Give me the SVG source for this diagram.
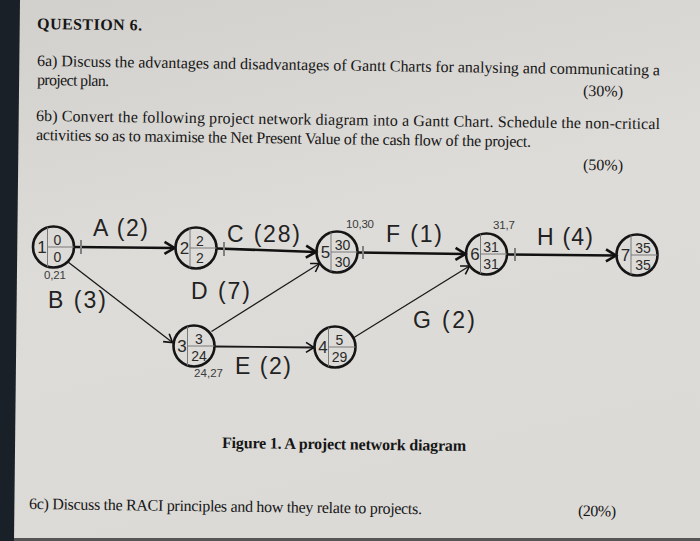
<svg xmlns="http://www.w3.org/2000/svg" width="700" height="541" viewBox="0 0 700 541">
<defs>
<linearGradient id="bg" x1="0" y1="0" x2="0.3" y2="1">
<stop offset="0" stop-color="#d2d0cc"/>
<stop offset="0.5" stop-color="#dedcd8"/>
<stop offset="1" stop-color="#dcdad6"/>
</linearGradient>
<marker id="ah" markerUnits="userSpaceOnUse" markerWidth="16" markerHeight="16" viewBox="-12 -8 14 16" refX="0" refY="0" orient="auto">
<path d="M-10,-6 L0,0 L-10,6" fill="none" stroke="#111" stroke-width="2.6" stroke-linejoin="miter"/>
</marker>
<marker id="ahs" markerUnits="userSpaceOnUse" markerWidth="14" markerHeight="14" viewBox="-10 -7 12 14" refX="0" refY="0" orient="auto">
<path d="M-8,-5 L0,0 L-8,5" fill="none" stroke="#111" stroke-width="1.6"/>
</marker>
</defs>
<style>
.paper{font-family:"Liberation Serif","Times New Roman",serif;fill:#161616;font-size:16px}
.bold{font-weight:bold}
.node circle{fill:none;stroke:#151515;stroke-width:2.6}
.node line{stroke:#7a7a7a;stroke-width:1}
.node text{font-family:"Liberation Sans",Arial,sans-serif;fill:#2a2a2a}
.big{font-size:17px;text-anchor:middle}
.num{font-size:14px;text-anchor:middle}
.lbl{font-family:"Liberation Sans",Arial,sans-serif;font-size:23px;fill:#222}
.sml{font-family:"Liberation Sans",Arial,sans-serif;font-size:11.5px;fill:#3a3a3a}
.thick{stroke:#111;stroke-width:2.6;fill:none}
.thin{stroke:#1a1a1a;stroke-width:1.3;fill:none}
.tick{stroke:#808080;stroke-width:2}
</style>
<rect width="700" height="541" fill="url(#bg)"/>
<polygon points="0,0 20,0 14,541 0,541" fill="#1a2028"/>
<rect x="14" y="538" width="686" height="3" fill="#555"/>

<text class="paper bold" x="37" y="29" font-size="17" textLength="105" transform="rotate(0.8 37 29)">QUESTION 6.</text>
<text class="paper" x="37" y="66" textLength="623" transform="rotate(0.85 37 66)">6a)  Discuss the advantages and disadvantages of Gantt Charts for analysing and communicating a</text>
<text class="paper" x="37" y="85" textLength="72" transform="rotate(0.85 37 85)">project plan.</text>
<text class="paper" x="583" y="96" textLength="40" transform="rotate(0.85 583 96)">(30%)</text>
<text class="paper" x="36" y="121" textLength="624" transform="rotate(0.75 36 121)">6b) Convert the following project network diagram into a Gantt Chart. Schedule the non-critical</text>
<text class="paper" x="36" y="140" textLength="495" transform="rotate(0.8 36 140)">activities so as to maximise the Net Present Value of the cash flow of the project.</text>
<text class="paper" x="583" y="170" textLength="40" transform="rotate(0.8 583 170)">(50%)</text>

<g id="connectors">
<path id="A" class="thick" d="M74,247 L174.5,248" marker-end="url(#ah)"/>
<path id="C" class="thick" d="M217,248.5 L316,252" marker-end="url(#ah)"/>
<path id="F" class="thick" d="M357.5,252.5 L465.5,254" marker-end="url(#ah)"/>
<path id="H" class="thick" d="M507,254.5 L616,255.5" marker-end="url(#ah)"/>
<path id="B" class="thin" d="M68,262 L172.5,342.5" marker-end="url(#ahs)"/>
<path id="D" class="thin" d="M211.5,331.5 L319.5,263.5" marker-end="url(#ahs)"/>
<path id="E" class="thin" style="stroke-width:1.8" d="M214.5,346.5 L314,347.5" marker-end="url(#ahs)"/>
<path id="G" class="thin" d="M354,337.5 L469.5,266" marker-end="url(#ahs)"/>
<line class="tick" x1="81" y1="240" x2="81" y2="254"/>
<line class="tick" x1="224" y1="242" x2="224" y2="256"/>
<line class="tick" x1="363" y1="246" x2="363" y2="259"/>
<line class="tick" x1="515" y1="248" x2="515" y2="261"/>
</g>

<text class="lbl" x="93" y="236" textLength="55">A (2)</text>
<text class="lbl" x="227" y="242" textLength="73">C (28)</text>
<text class="lbl" x="386" y="242" textLength="56">F (1)</text>
<text class="lbl" x="537" y="245" textLength="56">H (4)</text>
<text class="lbl" x="48" y="308" textLength="58">B (3)</text>
<text class="lbl" x="191" y="299" textLength="59">D (7)</text>
<text class="lbl" x="413" y="328" textLength="62">G (2)</text>
<text class="lbl" x="235" y="374" textLength="56">E (2)</text>
<text class="sml" x="44" y="279" textLength="22">0,21</text>
<text class="sml" x="346" y="228" textLength="28">10,30</text>
<text class="sml" x="493" y="229" textLength="22">31,7</text>
<text class="sml" x="194" y="377" textLength="29">24,27</text>

<g id="n1" class="node" transform="translate(53.5,247)">
<circle r="20.5"/><line x1="-6" y1="-19.6" x2="-6" y2="19.6"/><line x1="-6" y1="0" x2="20.5" y2="0"/>
<text class="big" x="-11.5" y="6">1</text><text class="num" x="4" y="-2">0</text><text class="num" x="4" y="14.5">0</text>
</g>
<g id="n2" class="node" transform="translate(196,248)">
<circle r="20.5"/><line x1="-6" y1="-19.6" x2="-6" y2="19.6"/><line x1="-6" y1="0" x2="20.5" y2="0"/>
<text class="big" x="-11.5" y="6">2</text><text class="num" x="4" y="-2">2</text><text class="num" x="4" y="14.5">2</text>
</g>
<g id="n3" class="node" transform="translate(194,346)">
<circle r="20.5"/><line x1="-6.5" y1="-19.4" x2="-6.5" y2="19.4"/><line x1="-6.5" y1="0" x2="20.5" y2="0"/>
<text class="big" x="-12" y="6">3</text><text class="num" x="5" y="-2">3</text><text class="num" x="5" y="14.5">24</text>
</g>
<g id="n4" class="node" transform="translate(335,347)">
<circle r="20.5"/><line x1="-6.5" y1="-19.4" x2="-6.5" y2="19.4"/><line x1="-6.5" y1="0" x2="20.5" y2="0"/>
<text class="big" x="-12" y="6">4</text><text class="num" x="4.5" y="-2">5</text><text class="num" x="4.5" y="14.5">29</text>
</g>
<g id="n5" class="node" transform="translate(337,252)">
<circle r="20.5"/><line x1="-6" y1="-19.6" x2="-6" y2="19.6"/><line x1="-6" y1="0" x2="20.5" y2="0"/>
<text class="big" x="-11.5" y="6">5</text><text class="num" x="5.5" y="-2">30</text><text class="num" x="5.5" y="14.5">30</text>
</g>
<g id="n6" class="node" transform="translate(486.5,254)">
<circle r="20.5"/><line x1="-6" y1="-19.6" x2="-6" y2="19.6"/><line x1="-6" y1="0" x2="20.5" y2="0"/>
<text class="big" x="-11.5" y="6">6</text><text class="num" x="4.5" y="-2">31</text><text class="num" x="4.5" y="14.5">31</text>
</g>
<g id="n7" class="node" transform="translate(637,255)">
<circle r="20.5"/><line x1="-6" y1="-19.6" x2="-6" y2="19.6"/><line x1="-6" y1="0" x2="20.5" y2="0"/>
<text class="big" x="-11.5" y="6">7</text><text class="num" x="6" y="-2">35</text><text class="num" x="6" y="14.5">35</text>
</g>

<text class="paper bold" x="222" y="448" font-size="14" textLength="244" transform="rotate(0.7 222 448)">Figure 1.  A project network diagram</text>
<text class="paper" x="29" y="509" font-size="14.5" textLength="393" transform="rotate(0.75 29 509)">6c) Discuss the RACI principles and how they relate to projects.</text>
<text class="paper" x="578" y="516" font-size="14.5" textLength="38" transform="rotate(0.75 578 516)">(20%)</text>
</svg>
